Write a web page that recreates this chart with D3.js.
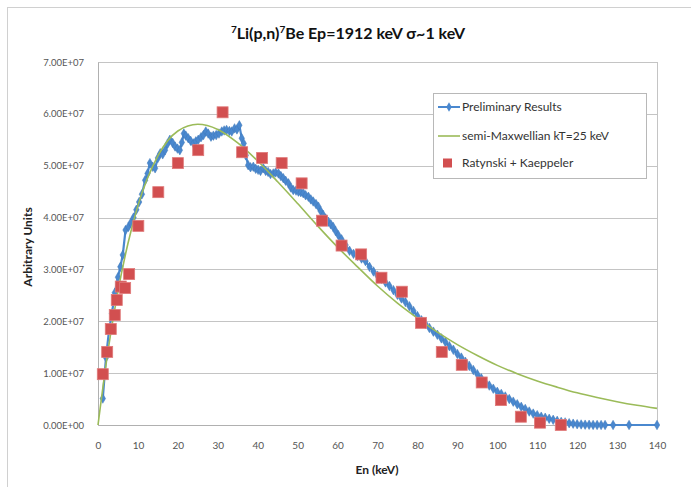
<!DOCTYPE html>
<html>
<head>
<meta charset="utf-8">
<script src="https://cdn.jsdelivr.net/npm/d3@7/dist/d3.min.js"></script>
<style>
  html, body { margin: 0; padding: 0; background: #fff; }
  svg { display: block; font-family: Lato, "Open Sans", sans-serif; }
</style>
</head>
<body>
<svg id="chart" width="691" height="487"></svg>
<script>
// Neutron energy spectrum, 7Li(p,n)7Be at Ep = 1912 keV

// Preliminary Results: [En (keV), intensity in units of 1e7]
const prelimEnergy = [
  1.2, 2.0, 2.8, 3.5, 4.2, 5.0, 5.6, 6.2, 6.9, 7.6, 8.2, 8.9, 9.6, 10.3, 11.0, 11.8, 12.4, 13.0, 13.7, 14.3,
  15.0, 15.6, 16.2, 16.8, 17.4, 18.0, 18.7, 19.3, 19.9, 20.5, 21.0, 21.5, 22.0, 22.6, 23.2, 23.9, 24.5, 25.1, 25.8, 26.4,
  27.0, 27.6, 28.3, 28.9, 29.6, 30.3, 31.0, 31.6, 32.2, 32.9, 33.5, 34.2, 34.8, 35.4, 36.0, 36.5, 37.0, 37.6, 38.2, 38.9,
  39.5, 40.1, 40.7, 41.4, 42.0, 42.6, 43.2, 43.9, 44.5, 45.2, 45.8, 46.4, 47.0, 47.7, 48.3, 48.9, 49.6, 50.2, 50.8, 51.4,
  52.0, 52.7, 53.3, 53.9, 54.6, 55.2, 55.8, 56.4, 57.0, 57.7, 58.3, 58.9, 59.5, 60.2,
  61, 62, 63, 64, 65, 66, 67, 68, 69, 70, 71, 72, 73, 74, 75, 76, 77, 78, 79, 80,
  81, 82, 83, 84, 85, 86, 87, 88, 89, 90, 91, 92, 93, 94, 95, 96, 97, 98, 99, 100,
  101, 102, 103, 104, 105, 106, 107, 108, 109, 110, 111, 112, 113, 114, 115, 116, 117, 118, 119, 120,
  121, 122, 123, 124, 125, 126, 127, 129, 133, 140
];
const prelimValue = [
  0.51, 1.30, 1.85, 2.15, 2.55, 2.85, 3.05, 3.28, 3.76, 3.82, 3.90, 4.00, 4.15, 4.30, 4.45, 4.72, 4.85, 5.05, 4.98, 4.95,
  5.15, 5.24, 5.22, 5.30, 5.42, 5.50, 5.44, 5.37, 5.33, 5.30, 5.45, 5.62, 5.58, 5.53, 5.48, 5.43, 5.47, 5.50, 5.55, 5.59,
  5.66, 5.62, 5.56, 5.58, 5.59, 5.62, 5.66, 5.68, 5.69, 5.67, 5.66, 5.72, 5.70, 5.78, 5.53, 5.43, 5.20, 5.01, 4.97, 4.98,
  4.94, 4.92, 4.90, 4.95, 4.90, 4.88, 4.84, 4.85, 4.87, 4.85, 4.80, 4.76, 4.71, 4.66, 4.58, 4.53, 4.52, 4.50, 4.49, 4.47,
  4.43, 4.40, 4.35, 4.31, 4.26, 4.21, 4.12, 4.05, 3.98, 3.92, 3.87, 3.82, 3.74, 3.66,
  3.58, 3.47, 3.36, 3.30, 3.26, 3.21, 3.16, 3.05, 2.96, 2.88, 2.82, 2.75, 2.68, 2.60, 2.51, 2.44, 2.37, 2.29, 2.20, 2.10,
  2.02, 1.95, 1.87, 1.80, 1.74, 1.67, 1.60, 1.52, 1.45, 1.37, 1.30, 1.22, 1.14, 1.06, 0.98, 0.90, 0.82, 0.76, 0.70, 0.64,
  0.60, 0.55, 0.50, 0.45, 0.40, 0.35, 0.31, 0.26, 0.22, 0.19, 0.16, 0.14, 0.12, 0.10, 0.08, 0.06, 0.05, 0.035, 0.025, 0.015,
  0.010, 0.006, 0.004, 0.002, 0.001, 0.0, 0.0, 0.0, 0.0, 0.0
];

// semi-Maxwellian kT = 25 keV
const maxwellEnergy = [0, 2.5, 5, 7.5, 10, 15, 20, 25, 30, 35, 40, 45, 50, 55, 60, 65, 70, 75, 80, 85, 90, 95, 100, 105, 110, 115, 120, 125, 130, 135, 140];
const maxwellValue  = [0, 1.43, 2.58, 3.50, 4.23, 5.19, 5.67, 5.80, 5.70, 5.44, 5.09, 4.69, 4.27, 3.84, 3.43, 3.05, 2.68, 2.35, 2.06, 1.79, 1.55, 1.34, 1.15, 0.99, 0.85, 0.73, 0.62, 0.53, 0.45, 0.38, 0.32];

// Ratynski + Kaeppeler
const ratynskiEnergy = [1.2, 2.3, 3.2, 4.2, 4.7, 5.7, 6.8, 7.8, 10.1, 15.1, 20.0, 25.1, 31.2, 36.1, 41.1, 46.0, 51.0, 56.1, 61.0, 65.9, 71.0, 76.1, 80.9, 86.1, 91.1, 96.1, 100.9, 105.9, 110.7, 115.9];
const ratynskiValue  = [0.98, 1.41, 1.85, 2.12, 2.41, 2.67, 2.64, 2.91, 3.84, 4.49, 5.05, 5.30, 6.03, 5.26, 5.15, 5.05, 4.66, 3.94, 3.46, 3.29, 2.84, 2.57, 1.97, 1.41, 1.16, 0.82, 0.48, 0.16, 0.045, 0.0];

const xTicks = [0, 10, 20, 30, 40, 50, 60, 70, 80, 90, 100, 110, 120, 130, 140];
const yTicks = [0, 1e7, 2e7, 3e7, 4e7, 5e7, 6e7, 7e7];
const yTickLabels = ["0.00E+00", "1.00E+07", "2.00E+07", "3.00E+07", "4.00E+07", "5.00E+07", "6.00E+07", "7.00E+07"];

const seriesNames = ["Preliminary Results", "semi-Maxwellian  kT=25 keV", "Ratynski + Kaeppeler"];

const BLUE = "#4a88cf", GREEN = "#9bbb59", RED = "#d24f50";

const svg = d3.select("#chart");
const plot = { left: 98, right: 657, top: 62, bottom: 425 };

const x = d3.scaleLinear().domain([0, 140]).range([plot.left, plot.right]);
const y = d3.scaleLinear().domain([0, 7e7]).range([plot.bottom, plot.top]);

// outer chart frame
svg.append("rect").attr("x", 7.5).attr("y", 7.5).attr("width", 700).attr("height", 500)
  .attr("fill", "#fff").attr("stroke", "#d0d0d0");

// title
const title = svg.append("text").attr("x", 348).attr("y", 39).attr("text-anchor", "middle")
  .attr("font-size", 16).attr("font-weight", "bold").attr("fill", "#111");
title.append("tspan").attr("font-size", 10).attr("dy", -6).text("7");
title.append("tspan").attr("dy", 6).text("Li(p,n)");
title.append("tspan").attr("font-size", 10).attr("dy", -6).text("7");
title.append("tspan").attr("dy", 6).text("Be Ep=1912 keV σ~1 keV");

// horizontal gridlines
svg.append("g").selectAll("line").data(yTicks.slice(1)).join("line")
  .attr("x1", plot.left).attr("x2", plot.right)
  .attr("y1", d => Math.round(y(d)) + 0.5).attr("y2", d => Math.round(y(d)) + 0.5)
  .attr("stroke", "#c4c4c4").attr("stroke-width", 1);

// plot area border
svg.append("rect").attr("x", plot.left + 0.5).attr("y", plot.top + 0.5)
  .attr("width", plot.right - plot.left).attr("height", plot.bottom - plot.top)
  .attr("fill", "none").attr("stroke", "#c4c4c4");

// axes
const yAxis = svg.append("g").attr("transform", `translate(${plot.left},0)`)
  .call(d3.axisLeft(y).tickValues(yTicks).tickSize(0).tickPadding(14)
    .tickFormat((d, i) => yTickLabels[i]));
yAxis.select(".domain").attr("stroke", "#b0b0b0");
yAxis.selectAll("text").attr("font-size", 9.5).attr("fill", "#555").attr("font-family", "Lato, sans-serif");

const xAxis = svg.append("g").attr("transform", `translate(0,${plot.bottom})`)
  .call(d3.axisBottom(x).tickValues(xTicks).tickSize(0).tickPadding(17));
xAxis.select(".domain").attr("stroke", "#b0b0b0");
xAxis.selectAll("text").attr("font-size", 10).attr("fill", "#555").attr("font-family", "Lato, sans-serif");

// axis titles
svg.append("text").attr("transform", "translate(32,247) rotate(-90)").attr("text-anchor", "middle")
  .attr("font-size", 12).attr("font-weight", "bold").attr("fill", "#222").text("Arbitrary  Units");
svg.append("text").attr("x", 377).attr("y", 474).attr("text-anchor", "middle")
  .attr("font-size", 12).attr("font-weight", "bold").attr("fill", "#222").text("En (keV)");

// series data
const prelim = prelimEnergy.map((e, i) => [e, prelimValue[i] * 1e7]);
const maxwell = maxwellEnergy.map((e, i) => [e, maxwellValue[i] * 1e7]);
const ratynski = ratynskiEnergy.map((e, i) => [e, ratynskiValue[i] * 1e7]);

const line = d3.line().x(d => x(d[0])).y(d => y(d[1]));

// preliminary results: line + diamonds
svg.append("path").datum(prelim).attr("d", line)
  .attr("fill", "none").attr("stroke", BLUE).attr("stroke-width", 2.2);
const diamond = d3.symbol().type(d3.symbolDiamond).size(26);
svg.append("g").selectAll("path").data(prelim).join("path")
  .attr("transform", d => `translate(${x(d[0])},${y(d[1])})`)
  .attr("d", diamond).attr("fill", BLUE).attr("stroke", "#3f78b8").attr("stroke-width", 0.5);

// semi-Maxwellian curve
svg.append("path").datum(maxwell).attr("d", line.curve(d3.curveMonotoneX))
  .attr("fill", "none").attr("stroke", GREEN).attr("stroke-width", 1.6);

// Ratynski + Kaeppeler squares
const sq = 11;
svg.append("g").selectAll("rect").data(ratynski).join("rect")
  .attr("x", d => x(d[0]) - sq / 2).attr("y", d => y(d[1]) - sq / 2)
  .attr("width", sq).attr("height", sq)
  .attr("fill", RED).attr("stroke", "#e07a7a").attr("stroke-width", 0.8);

// legend
const lg = svg.append("g");
lg.append("rect").attr("x", 433.5).attr("y", 93.5).attr("width", 213).attr("height", 85)
  .attr("fill", "#fff").attr("stroke", "#b8b8b8");
const rows = [107, 136, 163];
rows.forEach((ry, i) => {
  lg.append("text").attr("x", 462).attr("y", ry + 4).attr("font-size", 12).attr("fill", "#333")
    .text(seriesNames[i]);
});
lg.append("line").attr("x1", 438).attr("x2", 460).attr("y1", rows[0]).attr("y2", rows[0])
  .attr("stroke", BLUE).attr("stroke-width", 2);
lg.append("path").attr("transform", `translate(449,${rows[0]})`).attr("d", diamond).attr("fill", BLUE);
lg.append("line").attr("x1", 438).attr("x2", 460).attr("y1", rows[1]).attr("y2", rows[1])
  .attr("stroke", GREEN).attr("stroke-width", 1.6);
lg.append("rect").attr("x", 443).attr("y", rows[2] - 4.5).attr("width", 9).attr("height", 9)
  .attr("fill", RED);
</script>
</body>
</html>
